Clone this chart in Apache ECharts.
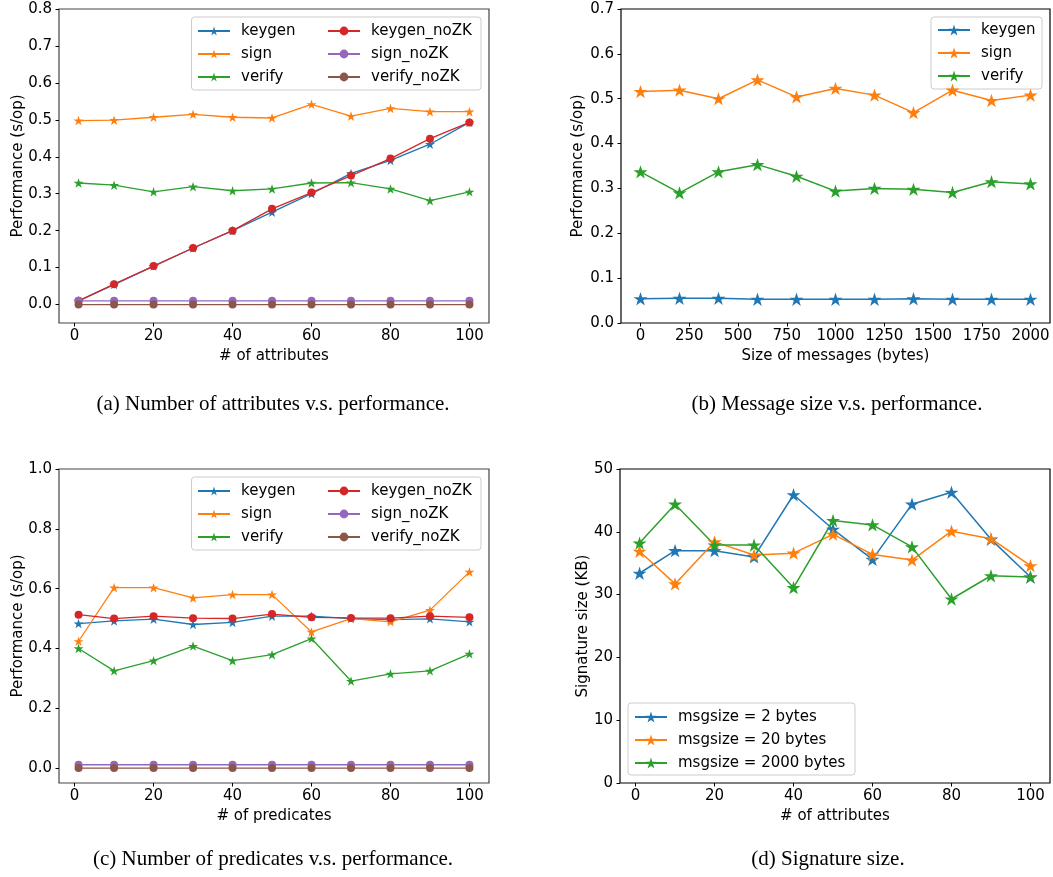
<!DOCTYPE html>
<html>
<head>
<meta charset="utf-8">
<script src="https://cdn.jsdelivr.net/npm/echarts@6/dist/echarts.min.js"></script>
<style>
html,body{margin:0;padding:0;background:#fff;}
#wrap{position:relative;width:1053px;height:877px;overflow:hidden;}
.p{position:absolute;}
</style>
</head>
<body>
<div id="wrap">
<div id="pa" class="p" style="left:0;top:0;width:527px;height:438px"></div>
<div id="pb" class="p" style="left:527px;top:0;width:526px;height:438px"></div>
<div id="pc" class="p" style="left:0;top:438px;width:527px;height:439px"></div>
<div id="pd" class="p" style="left:527px;top:438px;width:526px;height:439px"></div>
</div>
<script>
// ---------- data ----------
const attrs = [1, 10, 20, 30, 40, 50, 60, 70, 80, 90, 100];
const msgSizes = [0, 200, 400, 600, 800, 1000, 1200, 1400, 1600, 1800, 2000];

const A_keygen      = [0.010, 0.054, 0.104, 0.153, 0.200, 0.250, 0.300, 0.355, 0.390, 0.434, 0.493];
const A_sign        = [0.498, 0.499, 0.507, 0.515, 0.507, 0.505, 0.542, 0.510, 0.531, 0.522, 0.522];
const A_verify      = [0.329, 0.323, 0.305, 0.319, 0.308, 0.313, 0.329, 0.330, 0.313, 0.281, 0.305];
const A_keygenNoZK  = [0.010, 0.055, 0.104, 0.153, 0.200, 0.259, 0.303, 0.349, 0.395, 0.449, 0.493];
const A_signNoZK    = [0.010, 0.010, 0.010, 0.010, 0.010, 0.010, 0.010, 0.010, 0.010, 0.010, 0.010];
const A_verifyNoZK  = [0.000, 0.000, 0.000, 0.000, 0.000, 0.000, 0.000, 0.000, 0.000, 0.000, 0.000];

const B_keygen = [0.054, 0.055, 0.055, 0.053, 0.053, 0.053, 0.053, 0.054, 0.053, 0.053, 0.053];
const B_sign   = [0.516, 0.519, 0.500, 0.542, 0.504, 0.523, 0.508, 0.469, 0.519, 0.496, 0.508];
const B_verify = [0.337, 0.290, 0.337, 0.353, 0.327, 0.294, 0.300, 0.298, 0.291, 0.315, 0.310];

const C_keygen      = [0.483, 0.492, 0.498, 0.480, 0.487, 0.508, 0.508, 0.500, 0.496, 0.499, 0.489];
const C_sign        = [0.424, 0.603, 0.603, 0.569, 0.580, 0.580, 0.455, 0.500, 0.489, 0.528, 0.656];
const C_verify      = [0.400, 0.325, 0.359, 0.408, 0.359, 0.379, 0.433, 0.291, 0.315, 0.325, 0.382];
const C_keygenNoZK  = [0.513, 0.500, 0.508, 0.501, 0.500, 0.515, 0.504, 0.502, 0.501, 0.508, 0.504];
const C_signNoZK    = [0.011, 0.011, 0.011, 0.011, 0.011, 0.011, 0.011, 0.011, 0.011, 0.011, 0.011];
const C_verifyNoZK  = [0.000, 0.000, 0.000, 0.000, 0.000, 0.000, 0.000, 0.000, 0.000, 0.000, 0.000];

const D_msg2    = [33.4, 37.0, 37.0, 36.0, 45.9, 40.4, 35.6, 44.4, 46.3, 38.8, 32.8];
const D_msg20   = [36.9, 31.7, 38.4, 36.3, 36.6, 39.6, 36.4, 35.5, 40.1, 38.9, 34.6];
const D_msg2000 = [38.2, 44.4, 37.9, 37.9, 31.1, 41.8, 41.1, 37.6, 29.3, 33.0, 32.8];

const xTicksAttr = [0, 20, 40, 60, 80, 100];
const xTicksMsg  = [0, 250, 500, 750, 1000, 1250, 1500, 1750, 2000];
const yTicksA = [0, 0.1, 0.2, 0.3, 0.4, 0.5, 0.6, 0.7, 0.8];
const yTicksB = [0, 0.1, 0.2, 0.3, 0.4, 0.5, 0.6, 0.7];
const yTicksC = [0, 0.2, 0.4, 0.6, 0.8, 1.0];
const yTicksD = [0, 10, 20, 30, 40, 50];

// ---------- styling ----------
const FONT = 'DejaVu Sans';
const SERIF = 'Liberation Serif';
const COL = {blue:'#1f77b4', orange:'#ff7f0e', green:'#2ca02c', red:'#d62728', purple:'#9467bd', brown:'#8c564b'};
const STAR = 'path://M0,-1 L0.2245,-0.309 L0.951,-0.309 L0.363,0.118 L0.588,0.809 L0,0.382 L-0.588,0.809 L-0.363,0.118 L-0.951,-0.309 L-0.2245,-0.309 Z';

function pairs(xs, ys){ return xs.map((x,i)=>[x, ys[i]]); }

function mkSeries(name, xs, ys, color, symbol, size, lw){
  return {
    name, type:'line', data: pairs(xs, ys),
    symbol, symbolSize: size, symbolKeepAspect: true,
    showSymbol: true,
    lineStyle:{color, width: lw},
    itemStyle:{color, borderWidth:0},
    emphasis:{disabled:true},
    animation:false
  };
}

function xAxis(min, max, ticks, name, fmt){
  return {
    type:'value', min, max, name, nameLocation:'middle', nameGap:26, nameMoveOverlap:false,
    nameTextStyle:{fontFamily:FONT, fontSize:15, color:'#000'},
    axisLine:{show:false, onZero:false},
    axisTick:{show:true, inside:false, length:3.5, lineStyle:{color:'#000', width:1}, customValues: ticks},
    axisLabel:{fontFamily:FONT, fontSize:15, color:'#000', margin:6, customValues: ticks, formatter: fmt || (v=>String(v))},
    splitLine:{show:false}
  };
}
function yAxis(min, max, ticks, name, gap, fmt){
  return {
    type:'value', min, max, name, nameLocation:'middle', nameGap:gap, nameRotate:90, nameMoveOverlap:false,
    nameTextStyle:{fontFamily:FONT, fontSize:15, color:'#000'},
    axisLine:{show:false, onZero:false},
    axisTick:{show:true, inside:false, length:3.5, lineStyle:{color:'#000', width:1}, customValues: ticks},
    axisLabel:{fontFamily:FONT, fontSize:15, color:'#000', margin:7, customValues: ticks, formatter: fmt},
    splitLine:{show:false}
  };
}
function legend(left, top, names, ih){
  return {
    left, top, orient:'vertical', padding:0, itemGap:5, itemWidth:32, itemHeight: ih,
    data: names, selectedMode:false,
    textStyle:{fontFamily:FONT, fontSize:15, color:'#000', lineHeight:18, padding:[0,0,0,6]}
  };
}
function box(x, y, w, h){
  return {type:'rect', z:3, shape:{x, y, width:w, height:h, r:3},
    style:{fill:'rgba(255,255,255,0.8)', stroke:'#cccccc', lineWidth:1}};
}
function caption(text, cx, top){
  return {text, left: cx, top, textAlign:'center',
    textStyle:{fontFamily:SERIF, fontSize:21, fontWeight:'normal', color:'#000'}};
}
function grid(left, top, width, height, color){
  return {left, top, width, height, show:true, borderColor:color, borderWidth:1.2,
    outerBoundsMode:'none', containLabel:false};
}
const f1 = v => v.toFixed(1);
const f0 = v => String(Math.round(v));

// ---------- (a) ----------
const chA = echarts.init(document.getElementById('pa'), null, {renderer:'canvas'});
chA.setOption({
  animation:false,
  title: caption('(a) Number of attributes v.s. performance.', 268, 389),
  grid: grid(59, 9, 430, 314, '#444'),
  xAxis: xAxis(-3.95, 104.95, xTicksAttr, '# of attributes'),
  yAxis: yAxis(-0.05, 0.8, yTicksA, 'Performance (s/op)', 33, f1),
  legend:[legend(197, 22, ['keygen','sign','verify'], 11), legend(327, 22, ['keygen_noZK','sign_noZK','verify_noZK'], 11)],
  graphic:[box(191.5, 17, 289.5, 73)],
  series:[
    mkSeries('keygen', attrs, A_keygen, COL.blue, STAR, 10, 1.3),
    mkSeries('sign', attrs, A_sign, COL.orange, STAR, 10, 1.3),
    mkSeries('verify', attrs, A_verify, COL.green, STAR, 10, 1.3),
    mkSeries('keygen_noZK', attrs, A_keygenNoZK, COL.red, 'circle', 8, 1.3),
    mkSeries('sign_noZK', attrs, A_signNoZK, COL.purple, 'circle', 8, 1.3),
    mkSeries('verify_noZK', attrs, A_verifyNoZK, COL.brown, 'circle', 8, 1.3)
  ]
});

// ---------- (b) ----------
const chB = echarts.init(document.getElementById('pb'), null, {renderer:'canvas'});
chB.setOption({
  animation:false,
  title: caption('(b) Message size v.s. performance.', 305, 389),
  grid: grid(94, 9, 429, 314, '#000'),
  xAxis: xAxis(-100, 2100, xTicksMsg, 'Size of messages (bytes)'),
  yAxis: yAxis(0, 0.7, yTicksB, 'Performance (s/op)', 35, f1),
  legend:[legend(410, 21, ['keygen','sign','verify'], 14)],
  graphic:[box(404, 17, 111, 72)],
  series:[
    mkSeries('keygen', msgSizes, B_keygen, COL.blue, STAR, 14, 1.5),
    mkSeries('sign', msgSizes, B_sign, COL.orange, STAR, 14, 1.5),
    mkSeries('verify', msgSizes, B_verify, COL.green, STAR, 14, 1.5)
  ]
});

// ---------- (c) ----------
const chC = echarts.init(document.getElementById('pc'), null, {renderer:'canvas'});
chC.setOption({
  animation:false,
  title: caption('(c) Number of predicates v.s. performance.', 268, 406),
  grid: grid(59, 31, 430, 314, '#444'),
  xAxis: xAxis(-3.95, 104.95, xTicksAttr, '# of predicates'),
  yAxis: yAxis(-0.05, 1.0, yTicksC, 'Performance (s/op)', 33, f1),
  legend:[legend(197, 44, ['keygen','sign','verify'], 11), legend(327, 44, ['keygen_noZK','sign_noZK','verify_noZK'], 11)],
  graphic:[box(191.5, 39, 289.5, 73)],
  series:[
    mkSeries('keygen', attrs, C_keygen, COL.blue, STAR, 10, 1.3),
    mkSeries('sign', attrs, C_sign, COL.orange, STAR, 10, 1.3),
    mkSeries('verify', attrs, C_verify, COL.green, STAR, 10, 1.3),
    mkSeries('keygen_noZK', attrs, C_keygenNoZK, COL.red, 'circle', 8, 1.3),
    mkSeries('sign_noZK', attrs, C_signNoZK, COL.purple, 'circle', 8, 1.3),
    mkSeries('verify_noZK', attrs, C_verifyNoZK, COL.brown, 'circle', 8, 1.3)
  ]
});

// ---------- (d) ----------
const chD = echarts.init(document.getElementById('pd'), null, {renderer:'canvas'});
chD.setOption({
  animation:false,
  title: caption('(d) Signature size.', 296, 406),
  grid: grid(93, 31, 430, 314, '#000'),
  xAxis: xAxis(-3.95, 104.95, xTicksAttr, '# of attributes'),
  yAxis: yAxis(0, 50, yTicksD, 'Signature size (KB)', 29, f0),
  legend:[legend(107, 270, ['msgsize = 2 bytes','msgsize = 20 bytes','msgsize = 2000 bytes'], 14)],
  graphic:[box(101, 265, 227, 72)],
  series:[
    mkSeries('msgsize = 2 bytes', attrs, D_msg2, COL.blue, STAR, 14, 1.5),
    mkSeries('msgsize = 20 bytes', attrs, D_msg20, COL.orange, STAR, 14, 1.5),
    mkSeries('msgsize = 2000 bytes', attrs, D_msg2000, COL.green, STAR, 14, 1.5)
  ]
});
</script>
</body>
</html>
